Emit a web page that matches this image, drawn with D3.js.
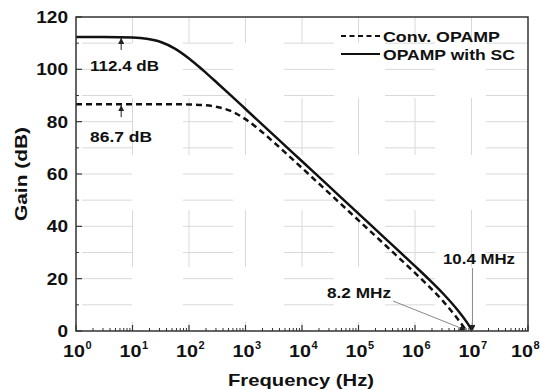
<!DOCTYPE html>
<html><head><meta charset="utf-8">
<script src="https://cdn.jsdelivr.net/npm/d3@7/dist/d3.min.js"></script>
<style>
body{margin:0;background:#fff;}
text{font-family:Arial,"Liberation Sans",sans-serif;font-weight:bold;fill:#111;}
</style></head>
<body><svg id="c" width="540" height="390"></svg>
<script>
// Data
const freqConv = [1, 3.16, 10, 31.6, 56.2, 100, 178, 316, 562, 1000, 1778, 3162, 10000, 31623, 1e5, 316228, 1e6, 1.78e6, 3.16e6, 5.62e6, 8.2e6];
const gainConv = [86.7, 86.7, 86.7, 86.7, 86.66, 86.58, 86.34, 85.64, 83.98, 80.96, 76.83, 72.15, 62.29, 52.3, 42.3, 32.29, 22.19, 16.97, 11.32, 4.76, 0];
const freqSC = [1, 3.16, 10, 17.8, 31.6, 56.2, 100, 178, 316, 562, 1000, 3162, 10000, 31623, 1e5, 316228, 1e6, 1.78e6, 3.16e6, 5.62e6, 7.94e6, 1.04e7];
const gainSC = [112.4, 112.38, 112.16, 111.68, 110.45, 107.94, 104.16, 99.62, 94.78, 89.84, 84.85, 74.86, 64.86, 54.86, 44.86, 34.85, 24.79, 19.65, 14.23, 8.12, 3.88, 0];
const xTickExps = [0, 1, 2, 3, 4, 5, 6, 7, 8];
const yTicks = [0, 20, 40, 60, 80, 100, 120];
const seriesNames = ["Conv. OPAMP", "OPAMP with SC"];
const dcLabels = ["112.4 dB", "86.7 dB"];
const dcValues = [112.4, 86.7];
const ugbLabels = ["10.4 MHz", "8.2 MHz"];
const ugbFreqs = [1.04e7, 8.2e6];

const svg = d3.select("#c");
const L = 76, R = 528, T = 17, B = 331;
const x = d3.scaleLog().domain([1, 1e8]).range([L, R]);
const y = d3.scaleLinear().domain([0, 120]).range([B, T]);

function widen(sel, k) {
  sel.each(function () {
    const w = this.getComputedTextLength();
    d3.select(this).attr("textLength", w * k).attr("lengthAdjust", "spacingAndGlyphs");
  });
  return sel;
}
function fitW(sel, w) {
  return sel.attr("textLength", w).attr("lengthAdjust", "spacingAndGlyphs");
}

const defs = svg.append("defs");
defs.append("marker").attr("id", "arr").attr("viewBox", "0 0 10 10").attr("refX", 10).attr("refY", 5)
  .attr("markerWidth", 6).attr("markerHeight", 6).attr("markerUnits", "userSpaceOnUse").attr("orient", "auto")
  .append("path").attr("d", "M0,0 L10,5 L0,10 z").attr("fill", "#222");

// grid
const grid = svg.append("g");
for (let g = 10; g < 120; g += 10) {
  grid.append("line").attr("x1", L).attr("x2", R).attr("y1", y(g)).attr("y2", y(g))
    .attr("stroke", "#d9d9d9").attr("stroke-width", 1).attr("stroke-dasharray", "50,51").attr("stroke-dashoffset", 95);
}
for (let e = 1; e < 8; e++) {
  grid.append("line").attr("x1", x(Math.pow(10, e))).attr("x2", x(Math.pow(10, e))).attr("y1", T).attr("y2", B)
    .attr("stroke", "#d9d9d9").attr("stroke-width", 1).attr("stroke-dasharray", "57,55").attr("stroke-dashoffset", 31);
}

// curves
const line = d3.line().x(d => x(d[0])).y(d => y(d[1])).curve(d3.curveMonotoneX);
svg.append("path").datum(freqConv.map((f, i) => [f, gainConv[i]]))
  .attr("d", line).attr("fill", "none").attr("stroke", "#111").attr("stroke-width", 2.5).attr("stroke-dasharray", "6,4");
svg.append("path").datum(freqSC.map((f, i) => [f, gainSC[i]]))
  .attr("d", line).attr("fill", "none").attr("stroke", "#111").attr("stroke-width", 2.5);

// frame
svg.append("rect").attr("x", L).attr("y", T).attr("width", R - L).attr("height", B - T)
  .attr("fill", "none").attr("stroke", "#333").attr("stroke-width", 1.5);

// x axis ticks (inward)
const xAxis = svg.append("g");
for (let e = 0; e < 8; e++) {
  for (let m = 2; m <= 9; m++) {
    const xv = x(m * Math.pow(10, e));
    xAxis.append("line").attr("x1", xv).attr("x2", xv).attr("y1", B).attr("y2", B - 3).attr("stroke", "#333").attr("stroke-width", 1);
  }
}
xTickExps.forEach((e, i) => {
  const xv = x(Math.pow(10, e));
  xAxis.append("line").attr("x1", xv).attr("x2", xv).attr("y1", B).attr("y2", B - 6).attr("stroke", "#333").attr("stroke-width", 1.2);
  const shift = i === xTickExps.length - 1 ? -4 : 0;
  const base = xAxis.append("text").attr("x", xv - 13 + shift).attr("y", 357).attr("font-size", 17).text("10");
  widen(base, 1.16);
  xAxis.append("text").attr("x", xv + 9.5 + shift).attr("y", 349).attr("font-size", 11).text(e);
});

// y axis ticks
const yAxis = svg.append("g");
for (let g = 10; g < 120; g += 20) {
  yAxis.append("line").attr("x1", L).attr("x2", L + 3).attr("y1", y(g)).attr("y2", y(g)).attr("stroke", "#333");
}
yTicks.forEach(g => {
  yAxis.append("line").attr("x1", L).attr("x2", L + 6).attr("y1", y(g)).attr("y2", y(g)).attr("stroke", "#333").attr("stroke-width", 1.2);
  widen(yAxis.append("text").attr("x", 68).attr("y", y(g) + 6).attr("text-anchor", "end").attr("font-size", 17).text(g), 1.12);
});

// axis titles
fitW(svg.append("text").attr("x", 301).attr("y", 386).attr("text-anchor", "middle").attr("font-size", 17).text("Frequency (Hz)"), 146);
fitW(svg.append("text").attr("transform", "translate(27," + ((T + B) / 2) + ") rotate(-90)").attr("text-anchor", "middle").attr("font-size", 17).text("Gain (dB)"), 94);

// legend
const lg = svg.append("g");
const legW = [117, 132];
seriesNames.forEach((n, i) => {
  const ly = 36 + i * 18;
  lg.append("line").attr("x1", 341).attr("x2", 380).attr("y1", ly).attr("y2", ly).attr("stroke", "#111").attr("stroke-width", 2.2)
    .attr("stroke-dasharray", i === 0 ? "5,3.5" : null);
  fitW(lg.append("text").attr("x", 383).attr("y", ly + 5.5).attr("font-size", 15).text(n), legW[i]);
});

// DC gain annotations
const ax = x(6.3);
const dcW = [69, 62], dcOff = [34, 38];
dcValues.forEach((v, i) => {
  svg.append("line").attr("x1", ax).attr("x2", ax).attr("y1", y(v) + 13).attr("y2", y(v) + 1)
    .attr("stroke", "#222").attr("stroke-width", 1).attr("marker-end", "url(#arr)");
  fitW(svg.append("text").attr("x", 90).attr("y", y(v) + dcOff[i]).attr("font-size", 14).text(dcLabels[i]), dcW[i]);
});

// unity gain annotations
const xu1 = x(ugbFreqs[0]);
svg.append("line").attr("x1", xu1).attr("x2", xu1).attr("y1", 268).attr("y2", B).attr("stroke", "#888").attr("stroke-width", 1).attr("marker-end", "url(#arr)");
fitW(svg.append("text").attr("x", 443).attr("y", 264).attr("font-size", 14).text(ugbLabels[0]), 72);
const xu2 = x(ugbFreqs[1]);
svg.append("line").attr("x1", 393).attr("x2", xu2 - 1).attr("y1", 301).attr("y2", B - 1).attr("stroke", "#888").attr("stroke-width", 1).attr("marker-end", "url(#arr)");
fitW(svg.append("text").attr("x", 327).attr("y", 298).attr("font-size", 14).text(ugbLabels[1]), 64);
</script></body></html>
